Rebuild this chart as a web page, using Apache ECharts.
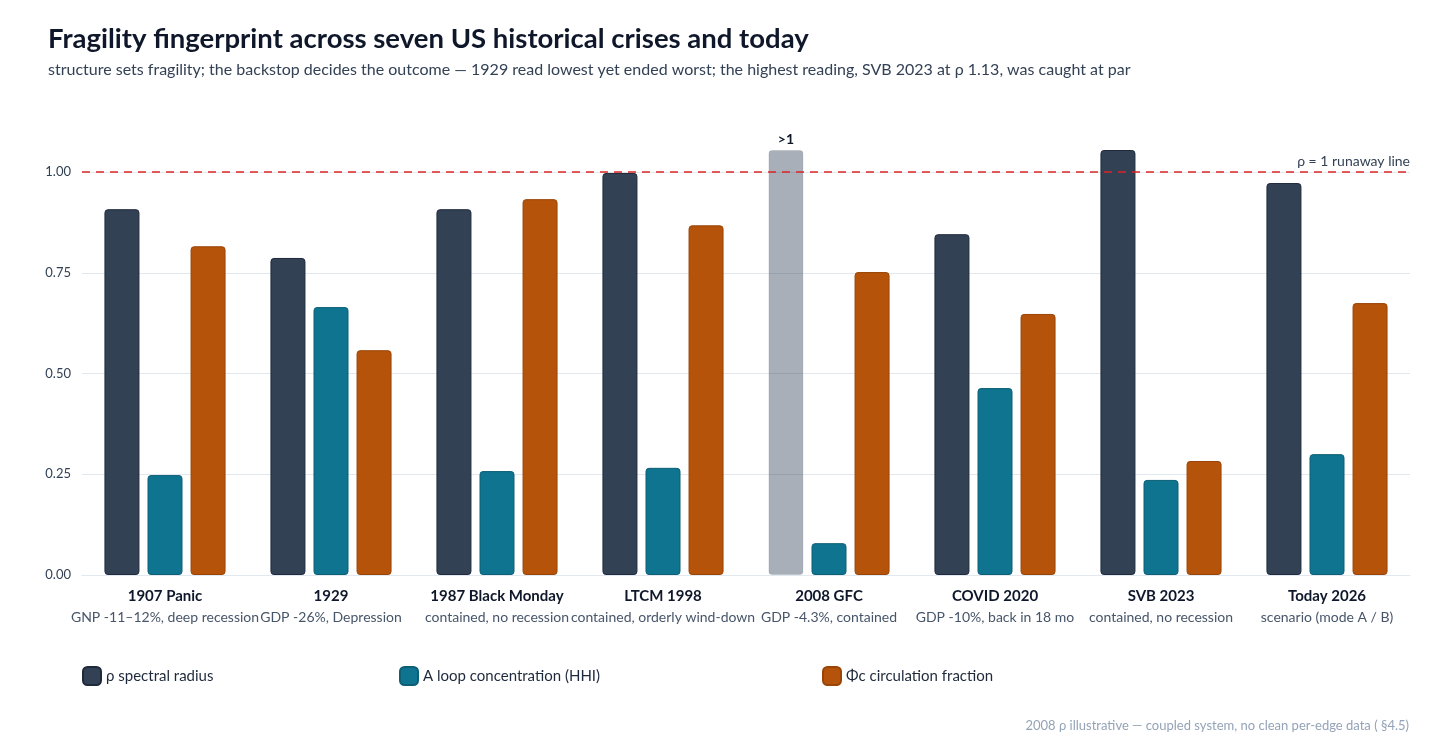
<!DOCTYPE html>
<html><head><meta charset="utf-8">
<script src="https://cdn.jsdelivr.net/npm/echarts@6/dist/echarts.min.js"></script>
<style>html,body{margin:0;padding:0;background:#fff}#c{width:1456px;height:752px}</style>
</head><body><div id="c"></div>
<script>
const categories = ['1907 Panic','1929','1987 Black Monday','LTCM 1998','2008 GFC','COVID 2020','SVB 2023','Today 2026'];
const outcomes = ['GNP -11–12%, deep recession','GDP -26%, Depression','contained, no recession','contained, orderly wind-down','GDP -4.3%, contained','GDP -10%, back in 18 mo','contained, no recession','scenario (mode A / B)'];
const rho = [0.908, 0.787, 0.908, 0.998, 1.055, 0.846, 1.055, 0.973];
const loopHHI = [0.248, 0.665, 0.258, 0.266, 0.079, 0.464, 0.236, 0.300];
const circFrac = [0.816, 0.558, 0.933, 0.868, 0.752, 0.648, 0.283, 0.675];
const yTicks = [0, 0.25, 0.5, 0.75, 1.0];
const illustrativeIndex = 4;

const FONT = 'Lato, "Noto Sans", sans-serif';
const C_RHO = '#334155', C_HHI = '#0e7490', C_PHI = '#b45309';

const chart = echarts.init(document.getElementById('c'), null, {renderer:'canvas'});
const rhoData = rho.map((v,i) => i === illustrativeIndex ? {
  value: v,
  itemStyle: {color: 'rgba(51,65,85,0.42)', borderColor: 'rgba(51,65,85,0.12)'},
  label: {show: true, position: 'top', formatter: '>1', color: '#0f172a', fontWeight: 'bold', fontSize: 14, fontFamily: FONT, distance: 4}
} : v);

const barBase = {
  type: 'bar', barWidth: 35, barGap: '23%',
  itemStyle: {borderRadius: 3, borderWidth: 1}
};
chart.setOption({
  textStyle: {fontFamily: FONT},
  title: [
    {text: 'Fragility fingerprint across seven US historical crises and today', left: 43, top: 20,
     textStyle: {fontSize: 27.5, fontWeight: 'bold', color: '#0f172a', fontFamily: FONT}},
    {text: 'structure sets fragility; the backstop decides the outcome — 1929 read lowest yet ended worst; the highest reading, SVB 2023 at ρ 1.13, was caught at par', left: 43, top: 57,
     textStyle: {fontSize: 16, fontWeight: 'normal', color: '#334155', fontFamily: FONT}},
    {text: '2008 ρ illustrative — coupled system, no clean per-edge data ( §4.5)', right: 42, top: 714,
     textStyle: {fontSize: 13, fontWeight: 'normal', color: '#94a3b8', fontFamily: FONT}}
  ],
  legend: [
    {data: ['ρ spectral radius'], left: 77, top: 661},
    {data: ['A loop concentration (HHI)'], left: 394, top: 661},
    {data: ['Φc circulation fraction'], left: 817, top: 661}
  ].map(l => Object.assign(l, {itemWidth: 18, itemHeight: 18, icon: 'roundRect', itemGap: 10,
      textStyle: {fontSize: 15, color: '#1e293b', fontFamily: FONT}})),
  grid: {left: 82, right: 46, top: 150, bottom: 177, containLabel: false},
  xAxis: {
    type: 'category', data: categories,
    axisLine: {lineStyle: {color: '#e2e8f0'}}, axisTick: {show: false},
    axisLabel: {interval: 0, margin: 11, lineHeight: 22,
      formatter: (v, i) => `{a|${v}}\n{b|${outcomes[i]}}`,
      rich: {
        a: {fontSize: 15, fontWeight: 'bold', color: '#0f172a', fontFamily: FONT, lineHeight: 21},
        b: {fontSize: 14, color: '#475569', fontFamily: FONT, lineHeight: 21}
      }}
  },
  yAxis: {
    type: 'value', min: 0, max: 1.055, interval: 0.25,
    axisLine: {show: false}, axisTick: {show: false},
    axisLabel: {showMaxLabel: false, margin: 11, color: '#334155', fontSize: 13, fontFamily: FONT,
      formatter: v => yTicks.some(t => Math.abs(t - v) < 1e-6) ? v.toFixed(2) : ''},
    splitLine: {showMaxLine: false, lineStyle: {color: '#e2e8f0', width: 1}}
  },
  series: [
    Object.assign({}, barBase, {name: 'ρ spectral radius', data: rhoData,
      itemStyle: {color: C_RHO, borderColor: '#1e293b', borderWidth: 1, borderRadius: 3},
      markLine: {silent: true, symbol: 'none', data: [{yAxis: 1}],
        lineStyle: {color: '#dc2626', type: [8, 6], width: 1.6},
        label: {position: 'insideEndTop', formatter: 'ρ = 1 runaway line', color: '#334155', fontSize: 14, fontFamily: FONT, distance: [0, 4]}}}),
    Object.assign({}, barBase, {name: 'A loop concentration (HHI)', data: loopHHI,
      itemStyle: {color: C_HHI, borderColor: '#0c5f75', borderWidth: 1, borderRadius: 3}}),
    Object.assign({}, barBase, {name: 'Φc circulation fraction', data: circFrac,
      itemStyle: {color: C_PHI, borderColor: '#9a4507', borderWidth: 1, borderRadius: 3}})
  ]
});
</script></body></html>
